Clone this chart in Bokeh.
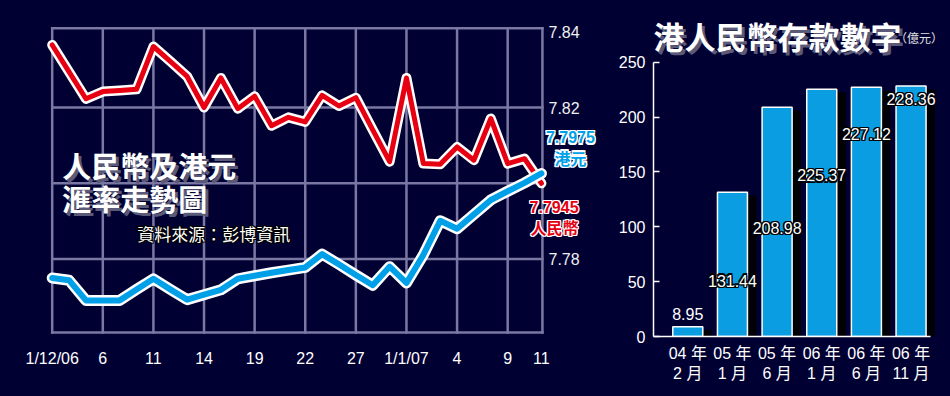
from bokeh.plotting import figure
from bokeh.models import Range1d, FixedTicker
from bokeh.layouts import row
from bokeh.core.properties import value
from bokeh.embed import file_html
from bokeh.resources import INLINE

# ---------------- data ----------------
# trading days 1 Dec 2006 .. 11 Jan 2007 (weekdays), index 0..29
day_index = list(range(30))
rmb = [7.8365, 7.8294, 7.8223, 7.8242, 7.8245, 7.8248, 7.8361, 7.8322, 7.8282, 7.8200,
       7.8278, 7.8197, 7.8230, 7.8152, 7.8174, 7.8162, 7.8232, 7.8204, 7.8226, 7.8141,
       7.8057, 7.8278, 7.8052, 7.8050, 7.8096, 7.8061, 7.8171, 7.8052, 7.8065, 7.8000]
hkd = [7.7750, 7.7744, 7.7691, 7.7691, 7.7691, 7.7720, 7.7748, 7.7720, 7.7693, 7.7706,
       7.7719, 7.7748, 7.7756, 7.7764, 7.7771, 7.7778, 7.7813, 7.7786, 7.7758, 7.7731,
       7.7780, 7.7737, 7.7811, 7.7901, 7.7880, 7.7918, 7.7956, 7.7979, 7.8001, 7.8026]
x_tick_pos = [0, 3, 6, 9, 12, 15, 18, 21, 24, 27, 29]
x_tick_labels = ["1/12/06", "6", "11", "14", "19", "22", "27", "1/1/07", "4", "9", "11"]
y_tick_vals = [7.84, 7.82, 7.78]
y_tick_labels = ["7.84", "7.82", "7.78"]

bar_cats = ["04 年\n2 月", "05 年\n1 月", "05 年\n6 月", "06 年\n1 月", "06 年\n6 月", "06 年\n11 月"]
bar_vals = [8.95, 131.44, 208.98, 225.37, 227.12, 228.36]
bar_ticks = [0, 50, 100, 150, 200, 250]

# ---------------- layout / style ----------------
BG = "#000033"
GRID = "#7a77a3"
RED = "#e60012"
BLUE = "#00a0e9"
BAR = "#0a9de2"
CJK = "Noto Sans CJK TC"
LAT = "Liberation Sans"
MIX = "Liberation Sans, Noto Sans CJK TC"

grid_x = [0, 3, 6, 9, 12, 15, 18, 21, 24, 27, 29.06]
grid_y = [7.8409, 7.82, 7.80, 7.78, 7.7606]
box_x0, box_x1 = 0, 29.06
box_y0, box_y1 = 7.7606, 7.8409


def txt(p, x, y, s, size, color, font=LAT, style="normal", align="left",
        baseline="middle", outline=None, ow=1.2, shadow=None, sd=3):
    kw = dict(text_font=value(font), text_font_size=f"{size}px", text_font_style=style,
              text_align=align, text_baseline=baseline)
    if shadow:
        p.text(x=[x], y=[y], text=[s], x_offset=sd, y_offset=sd, text_color=shadow, **kw)
    if outline:
        for dx, dy in [(-ow, 0), (ow, 0), (0, -ow), (0, ow), (-ow, -ow), (ow, ow), (-ow, ow), (ow, -ow)]:
            p.text(x=[x], y=[y], text=[s], x_offset=dx, y_offset=dy, text_color=outline, **kw)
    p.text(x=[x], y=[y], text=[s], text_color=color, **kw)


# ---------------- left: exchange rate lines ----------------
p1 = figure(width=600, height=390, x_range=Range1d(-3.0646, 32.502),
            y_range=Range1d(7.75957, 7.84824), y_axis_location=None,
            output_backend="svg", toolbar_location=None,
            min_border_left=0, min_border_right=0, min_border_top=0, min_border_bottom=50,
            background_fill_color=BG, border_fill_color=BG, outline_line_color=None)
p1.grid.visible = False

p1.segment(x0=grid_x, y0=[box_y0] * len(grid_x), x1=grid_x, y1=[box_y1] * len(grid_x),
           line_color=GRID, line_width=2.5, line_cap="square")
p1.segment(x0=[box_x0] * len(grid_y), y0=grid_y, x1=[box_x1] * len(grid_y), y1=grid_y,
           line_color=GRID, line_width=2.5, line_cap="square")

p1.line(day_index, rmb, line_color="white", line_width=10, line_join="round", line_cap="round")
p1.line(day_index, rmb, line_color=RED, line_width=5, line_join="round", line_cap="round")
p1.line(day_index, hkd, line_color="white", line_width=11, line_join="round", line_cap="round")
p1.line(day_index, hkd, line_color=BLUE, line_width=6, line_join="round", line_cap="round")

for v, lab in zip(y_tick_vals, y_tick_labels):
    txt(p1, 29.42, v, lab, 16, "#f0f0f0")

txt(p1, 0.593, 7.80495, "人民幣及港元", 29, "white", font=CJK, style="bold", shadow="#5a5a78")
txt(p1, 0.593, 7.79608, "滙率走勢圖", 29, "white", font=CJK, style="bold", shadow="#5a5a78")
txt(p1, 5.04, 7.78683, "資料來源：彭博資訊", 17, "white", font=CJK, outline="#000000", ow=1)

txt(p1, 30.72, 7.81212, "7.7975", 16, BLUE, style="bold", align="center", outline="white")
txt(p1, 30.72, 7.80678, "港元", 16, BLUE, font=CJK, style="bold", align="center", outline="white")
txt(p1, 29.75, 7.79374, "7.7945", 16, RED, style="bold", align="center", outline="white")
txt(p1, 29.77, 7.78839, "人民幣", 16, RED, font=CJK, style="bold", align="center", outline="white")

ax = p1.xaxis[0]
ax.ticker = FixedTicker(ticks=x_tick_pos)
ax.major_label_overrides = {t: l for t, l in zip(x_tick_pos, x_tick_labels)}
ax.axis_line_color = None
ax.major_tick_line_color = None
ax.minor_tick_line_color = None
ax.major_label_text_color = "white"
ax.major_label_text_font = LAT
ax.major_label_text_font_size = "16px"
ax.major_label_standoff = 7

# ---------------- right: deposits bar chart ----------------
p2 = figure(width=344, height=390, x_range=Range1d(-0.768, 5.749), y_range=Range1d(0, 306.3),
            output_backend="svg", toolbar_location=None,
            min_border_left=53, min_border_right=0, min_border_top=0, min_border_bottom=54,
            background_fill_color=BG, border_fill_color=BG, outline_line_color=None)
p2.grid.visible = False

idx = list(range(len(bar_vals)))
p2.vbar(x=[i + 0.2 for i in idx], top=[v - 3 for v in bar_vals], bottom=0, width=0.672,
        fill_color="black", fill_alpha=0.9, line_color=None)
p2.vbar(x=idx, top=bar_vals, bottom=0, width=0.672, fill_color=BAR,
        line_color="white", line_width=1.5)

label_y = [20.7, 51, 99, 146.8, 184.8, 216.7]
for i, (v, ly) in enumerate(zip(bar_vals, label_y)):
    txt(p2, i, ly, f"{v:.2f}", 16, "white", align="center",
        outline=None if i == 0 else "black", ow=1.2)

txt(p2, -0.768, 274.4, "港人民幣存款數字", 31, "white", font=CJK, style="bold", shadow="#5a5a78")
txt(p2, 5.18, 272.6, "（億元）", 12, "#e0e0e0", font=CJK, align="center")

ya = p2.yaxis[0]
ya.ticker = FixedTicker(ticks=bar_ticks)
ya.bounds = (0, 250)
ya.axis_line_color = "white"
ya.axis_line_width = 1.5
ya.major_tick_in = 6
ya.major_tick_out = 0
ya.major_tick_line_color = "white"
ya.major_tick_line_width = 1.5
ya.minor_tick_line_color = None
ya.major_label_text_color = "white"
ya.major_label_text_font = LAT
ya.major_label_text_font_size = "16px"
ya.major_label_standoff = 8

xa = p2.xaxis[0]
xa.ticker = FixedTicker(ticks=idx)
xa.major_label_overrides = {i: c for i, c in zip(idx, bar_cats)}
xa.bounds = (-0.768, 5.436)
xa.axis_line_color = "white"
xa.axis_line_width = 1.5
xa.major_tick_line_color = None
xa.minor_tick_line_color = None
xa.major_label_text_color = "white"
xa.major_label_text_font = MIX
xa.major_label_text_font_size = "16px"
xa.major_label_standoff = 2

layout = row(p1, p2)
html = file_html(layout, INLINE)
html = html.replace("<head>", "<head><style>html,body{background:#000033;}</style>", 1)
open("out.html", "w").write(html)
